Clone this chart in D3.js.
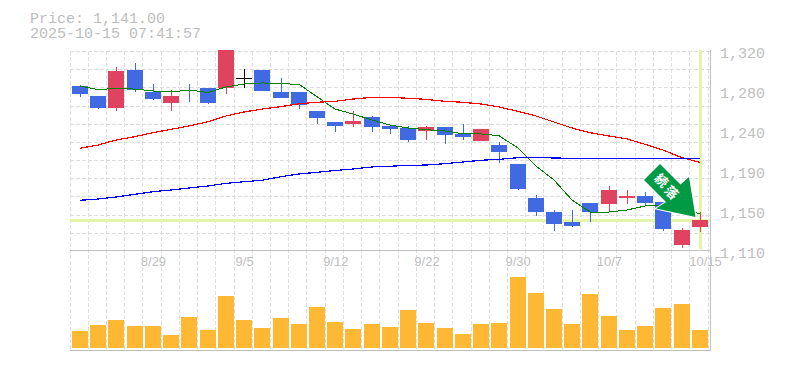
<!DOCTYPE html>
<html>
<head>
<meta charset="utf-8">
<script src="https://cdn.jsdelivr.net/npm/d3@7"></script>
<style>
  html, body { margin: 0; padding: 0; background: #fff; }
  svg { display: block; }
  .mono { font-family: "Liberation Mono", monospace; font-size: 15px; fill: #bdbdbd; }
</style>
</head>
<body>
<div id="chart"></div>
<script>
// trading days
var dates = ["8/25","8/26","8/27","8/28","8/29","9/1","9/2","9/3","9/4","9/5","9/8","9/9","9/10","9/11","9/12",
  "9/16","9/17","9/18","9/19","9/22","9/24","9/25","9/26","9/29","9/30","10/1","10/2","10/3","10/6","10/7",
  "10/8","10/9","10/10","10/14","10/15"];

// prices
var opens = [1282,1272,1259,1299,1276,1264,1278,1280,1280,1291,1299,1276,1276,1256,1244,
  1242,1250,1240,1238,1235,1239,1232,1224,1220,1200,1165,1150,1139,1159,1158,
  1165,1167,1160,1115,1134];
var closes = [1274,1259,1298,1278,1269,1272,1277,1264,1320,1291,1277,1270,1262,1249,1240,
  1245,1239,1237,1225,1239,1231,1229,1237,1213,1174,1150,1137,1135,1150,1173,
  1167,1159,1132,1131,1141];
var highs = [1283,1272,1302,1306,1284,1278,1284,1280,1320,1300,1299,1291,1276,1256,1244,
  1256,1251,1241,1240,1240,1239,1242,1237,1223,1200,1168,1152,1152,1159,1177,
  1173,1171,1160,1133,1150];
var lows = [1271,1258,1256,1276,1268,1256,1265,1263,1274,1280,1277,1270,1258,1242,1234,
  1239,1234,1232,1223,1226,1221,1225,1224,1201,1173,1146,1130,1134,1139,1151,
  1158,1156,1130,1112,1129];

// moving averages
var maShort = [1282.2,1278.5,1279.6,1279,1277,1275.9,1278,1275.4,1281.2,1284.3,1285.4,1284.6,1284,1271,1258,
  1252.8,1246.5,1241.2,1238.1,1236.3,1235,1232.1,1231.8,1230,1217.1,1198.2,1183.5,1162.5,1149.9,1149.9,
  1152,1156.2,1157.2,1154.1,1147.8];
var maMid = [1216.8,1220.2,1225.5,1229,1233.2,1236.7,1240.2,1244.7,1250.7,1254.9,1258,1260.5,1263.6,1265.1,1266.1,
  1268.5,1270.3,1270.3,1269.3,1268.2,1266.1,1265.1,1263.3,1260.2,1255.6,1250.7,1244.4,1238.1,1233.2,1229.7,
  1226.6,1221,1215,1206.9,1202.1];
var maLong = [1162.2,1163.5,1165.6,1168.5,1171.2,1173,1175.1,1177.2,1180,1181.7,1183.2,1187,1189.8,1191.6,1193.5,
  1195,1197.2,1197.9,1198.9,1199.2,1200.6,1202.4,1204.2,1205.2,1206.9,1207.3,1206.6,1206.3,1206.3,1206.3,
  1206.3,1206.3,1206.3,1206.3,1206.3];

var volumes = [17000,23000,28000,22000,22000,13000,31000,18000,52000,28000,20000,30000,24000,41000,26000,19000,24000,21000,
  38000,25000,20000,14000,24000,25000,71000,55000,39000,24000,54000,32000,18000,22000,40000,44000,18000];

var yTicks = [1320,1278,1236,1194,1152,1110];
var yTickLabels = ["1,320","1,280","1,240","1,190","1,150","1,110"];
var xTickDates = ["8/29","9/5","9/12","9/22","9/30","10/7","10/15"];
var lastPrice = 1141;
var titleLines = ["Price: 1,141.00","2025-10-15 07:41:57"];

var width = 785, height = 370;
var barW = 16;
var gray = "#c0c0c0", gridCol = "#dddddd", markCol = "#e4f5a8";
var upCol = "#e0435f", downCol = "#4169e1";

var svg = d3.select("#chart").append("svg")
  .attr("width", width)
  .attr("height", height);

var x = d3.scaleBand().domain(dates).range([70, 708.05]);
var y = d3.scaleLinear().domain([1110, 1320]).range([250, 50]);
var yVol = d3.scaleLinear().domain([0, 80000]).range([348, 268]);

function left(d) { return Math.round(x(d) + 2); }
function mid(d) { return left(d) + barW / 2; }
function py(v) { return Math.round(y(v)); }

// grid - 11 divisions on the price panel, one per day across both panels
var grid = svg.append("g")
  .attr("stroke", gridCol)
  .attr("stroke-dasharray", "4,2")
  .attr("shape-rendering", "crispEdges");

grid.selectAll("line.h")
  .data(d3.range(0, 11))
  .enter().append("line")
    .attr("class", "h")
    .attr("x1", 70).attr("x2", 710)
    .attr("y1", function(i) { return Math.round(y.range()[1] + i * 200 / 11) + 1.5; })
    .attr("y2", function(i) { return Math.round(y.range()[1] + i * 200 / 11) + 1.5; });

grid.selectAll("line.v")
  .data(d3.range(0, dates.length + 1))
  .enter().append("line")
    .attr("class", "v")
    .attr("y1", 51).attr("y2", 350)
    .attr("x1", function(i) { return Math.floor(70 + i * x.step()) + 0.5; })
    .attr("x2", function(i) { return Math.floor(70 + i * x.step()) + 0.5; });

// current price and latest day markers
svg.append("rect")
  .attr("x", 70).attr("width", 640)
  .attr("y", py(lastPrice) - 1).attr("height", 3)
  .attr("fill", markCol);
svg.append("rect")
  .attr("x", mid(dates[dates.length - 1]) - 1).attr("width", 3)
  .attr("y", 50).attr("height", 199)
  .attr("fill", markCol);

// panel frame
var frame = svg.append("g")
  .attr("stroke", gray)
  .attr("shape-rendering", "crispEdges");
frame.append("line").attr("x1", 70).attr("x2", 711).attr("y1", 250.5).attr("y2", 250.5);
frame.append("line").attr("x1", 70).attr("x2", 711).attr("y1", 350.5).attr("y2", 350.5);
frame.append("line").attr("x1", 710.5).attr("x2", 710.5).attr("y1", 50).attr("y2", 351);

// volume
svg.append("g").selectAll("rect")
  .data(volumes)
  .enter().append("rect")
    .attr("x", function(d, i) { return left(dates[i]); })
    .attr("width", barW)
    .attr("y", function(d) { return yVol(d); })
    .attr("height", function(d) { return yVol(0) - yVol(d); })
    .attr("fill", "#ffb833");

// candles
var candle = svg.append("g").attr("shape-rendering", "crispEdges")
  .selectAll("g")
  .data(dates)
  .enter().append("g");

function candleCol(i) {
  if (opens[i] === closes[i]) return "#000";
  return closes[i] > opens[i] ? upCol : downCol;
}

candle.append("rect")
  .attr("x", function(d) { return mid(d); })
  .attr("width", 1)
  .attr("y", function(d, i) { return py(highs[i]); })
  .attr("height", function(d, i) { return py(lows[i]) - py(highs[i]); })
  .attr("fill", function(d, i) { return candleCol(i); });

candle.append("rect")
  .attr("x", function(d) { return left(d); })
  .attr("width", barW)
  .attr("y", function(d, i) { return py(Math.max(opens[i], closes[i])); })
  .attr("height", function(d, i) { return Math.max(1, py(Math.min(opens[i], closes[i])) - py(Math.max(opens[i], closes[i]))); })
  .attr("fill", function(d, i) { return candleCol(i); });

// moving averages
var line = d3.line()
  .x(function(d, i) { return mid(dates[i]); })
  .y(function(d) { return y(d); });

[[maShort, "#008000", 1], [maMid, "#ff0000", 1.2], [maLong, "#0000ff", 1.2]].forEach(function(s) {
  svg.append("path")
    .datum(s[0])
    .attr("d", line)
    .attr("fill", "none")
    .attr("stroke", s[1])
    .attr("stroke-width", s[2])
    .attr("shape-rendering", "crispEdges");
});

// axes
var yAxis = svg.append("g")
  .attr("transform", "translate(711,0)")
  .call(d3.axisRight(y).tickValues(yTicks).tickSize(0).tickPadding(9)
    .tickFormat(function(d, i) { return yTickLabels[i]; }));
yAxis.select(".domain").remove();
yAxis.selectAll("text")
  .attr("class", "mono")
  .attr("dy", null)
  .attr("y", 7)
  .style("font-family", "'Liberation Mono', monospace")
  .style("font-size", "15px")
  .style("fill", gray);

var xAxis = svg.append("g")
  .attr("transform", "translate(0,250)")
  .call(d3.axisBottom(d3.scalePoint().domain(dates).range([mid(dates[0]), mid(dates[dates.length - 1])]))
    .tickValues(xTickDates).tickSize(0).tickPadding(0));
xAxis.select(".domain").remove();
xAxis.selectAll("text")
  .attr("y", 16)
  .attr("dy", null)
  .attr("dx", function(d) { return d === "10/15" ? 5 : 0; })
  .style("font-family", "'Liberation Sans', sans-serif")
  .style("font-size", "13px")
  .style("fill", gray);

// price header
svg.append("text")
  .attr("class", "mono")
  .attr("y", 23)
  .selectAll("tspan")
  .data(titleLines)
  .enter().append("tspan")
    .attr("x", 30)
    .attr("dy", function(d, i) { return i * 15; })
    .text(function(d) { return d; });

// signal arrow
var arrowPts = [[660,164],[680.5,184.5],[689,177],[695.5,217],[656,208.5],[666,202],[644,180]];
svg.append("polygon")
  .attr("points", arrowPts.map(function(p) { return p.join(","); }).join(" "))
  .attr("fill", "#009a44")
  .attr("stroke", "#ffffff")
  .attr("stroke-width", 2)
  .attr("paint-order", "stroke");

[["続", 662, 180], ["落", 672, 192]].forEach(function(t) {
  svg.append("text")
    .attr("transform", "translate(" + t[1] + "," + t[2] + ") rotate(45)")
    .attr("text-anchor", "middle")
    .attr("dominant-baseline", "central")
    .style("font-family", "'Noto Sans CJK JP', sans-serif")
    .style("font-weight", "700")
    .style("font-size", "13px")
    .style("fill", "#ffffff")
    .text(t[0]);
});
</script>
</body>
</html>
